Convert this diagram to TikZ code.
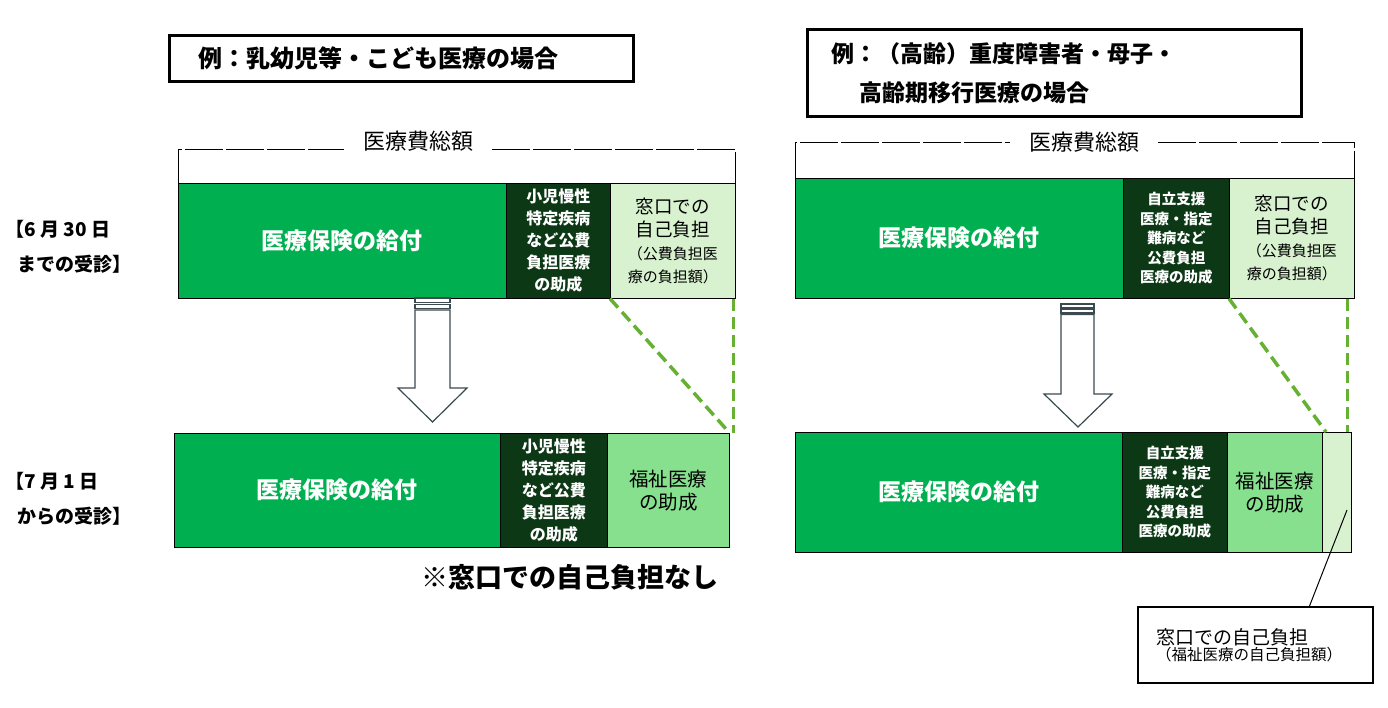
\documentclass[tikz,border=0pt]{standalone}
\usepackage{fontspec}
\setmainfont{Noto Sans CJK JP}
\usetikzlibrary{arrows,arrows.meta}

\definecolor{kenpo}{HTML}{00B050}
\definecolor{kohi}{HTML}{0D3816}
\definecolor{fukushi}{HTML}{86E08E}
\definecolor{madoguchi}{HTML}{D8F2D0}
\definecolor{linkgreen}{HTML}{66B032}
\definecolor{arrowgray}{HTML}{3A4A50}

\begin{document}
\begin{tikzpicture}[x=1pt,y=-1pt,
seg/.style={draw=black,line width=0.6pt,inner sep=0pt,anchor=north west,align=center},
kenpobox/.style={seg,fill=kenpo,text=white,font=\fontsize{23}{26}\selectfont\bfseries},
kohibox/.style={seg,fill=kohi,text=white,font=\bfseries},
fukubox/.style={seg,fill=fukushi,font=\fontsize{19.5}{23}\selectfont},
selfbox/.style={seg,fill=madoguchi},
casebox/.style={draw=black,line width=3pt,anchor=north west,align=left,font=\bfseries},
total/.style={font=\fontsize{22}{26}\selectfont,inner xsep=19pt},
bracket/.style={line width=0.7pt,dash pattern=on 38pt off 3pt},
datelabel/.style={anchor=west,align=left,font=\fontsize{19}{35}\selectfont\bfseries},
link/.style={linkgreen,line width=3.5pt,dash pattern=on 12pt off 6pt},
hollow/.style={draw=arrowgray,fill=white,line width=1.2pt,line join=miter},
notebox/.style={draw=black,line width=2pt,anchor=north west,align=left,inner xsep=18pt,text width=199pt,minimum height=76pt} ]

\useasboundingbox (0,0) rectangle (1388,707);

% left case
\node[casebox,minimum width=464pt,minimum height=46pt,inner xsep=26pt,text width=406pt,font=\fontsize{24}{28}\selectfont\bfseries] (case1) at (168,34) {例：乳幼児等・こども医療の場合};

\node[total] (total1) at (418,141) {医療費総額};

\node[kenpobox,minimum width=328pt,minimum height=115pt] (ins1) at (178,183) {医療保険の給付};
\node[kohibox,minimum width=104pt,minimum height=115pt,font=\fontsize{16}{22}\selectfont\bfseries] (kohi1) at (506,183) {小児慢性\\特定疾病\\など公費\\負担医療\\の助成};
\node[selfbox,minimum width=125pt,minimum height=115pt,font=\fontsize{18.5}{23}\selectfont] (self1) at (610,183) {窓口での\\自己負担\\\fontsize{15}{23}\selectfont（公費負担医\\\fontsize{15}{23}\selectfont 療の負担額）};

\draw[bracket] (ins1.north west) |- (total1.base west);
\draw[bracket] (total1.base east) -| (self1.north east);

\node[kenpobox,minimum width=326pt,minimum height=114pt] (ins2) at (174,433) {医療保険の給付};
\node[kohibox,minimum width=107pt,minimum height=114pt,font=\fontsize{16}{22}\selectfont\bfseries] (kohi2) at (500,433) {小児慢性\\特定疾病\\など公費\\負担医療\\の助成};
\node[fukubox,minimum width=122pt,minimum height=114pt] (fuku2) at (607,433) {福祉医療\\の助成};

\node[datelabel] (when1) at (2,247) {【6 月 30 日\\\hspace*{12pt}までの受診】};
\node[datelabel] (when2) at (2,499) {【7 月 1 日\\\hspace*{12pt}からの受診】};

\node[font=\fontsize{27}{30}\selectfont\bfseries] (none2) at (570,577) {※窓口での自己負担なし};

\draw[link] (self1.south west) -- (fuku2.north east);
\draw[link] ([xshift=-2pt]self1.south east) -- ([xshift=4pt]fuku2.north east);

\draw[hollow] (415,298) rectangle (450,302.5);
\draw[hollow] (415,304.5) rectangle (450,308.5);
\draw[hollow] (415,310) -- (415,388) -- (398,388) -- (432.5,422) -- (467,388) -- (450,388) -- (450,310) -- cycle;

% right case
\node[casebox,minimum width=494pt,minimum height=87pt,inner xsep=24pt,text width=446pt,font=\fontsize{23}{39}\selectfont\bfseries] (case2) at (806,28) {例：（高齢）重度障害者・母子・\\\hspace*{28pt}高齢期移行医療の場合};

\node[total] (total3) at (1084,142) {医療費総額};

\node[kenpobox,minimum width=328pt,minimum height=120pt] (ins3) at (795,178) {医療保険の給付};
\node[kohibox,minimum width=106pt,minimum height=120pt,font=\fontsize{14.5}{19.5}\selectfont\bfseries] (kohi3) at (1123,178) {自立支援\\医療・指定\\難病など\\公費負担\\医療の助成};
\node[selfbox,minimum width=125pt,minimum height=120pt,font=\fontsize{18.5}{23}\selectfont] (self3) at (1229,178) {窓口での\\自己負担\\\fontsize{15}{23}\selectfont（公費負担医\\\fontsize{15}{23}\selectfont 療の負担額）};

\draw[bracket] (ins3.north west) |- (total3.west);
\draw[bracket] (total3.east) -| (self3.north east);

\node[kenpobox,minimum width=327pt,minimum height=120pt] (ins4) at (795,432) {医療保険の給付};
\node[kohibox,minimum width=105pt,minimum height=120pt,font=\fontsize{14.5}{19.5}\selectfont\bfseries] (kohi4) at (1122,432) {自立支援\\医療・指定\\難病など\\公費負担\\医療の助成};
\node[fukubox,minimum width=95pt,minimum height=120pt] (fuku4) at (1227,432) {福祉医療\\の助成};
\node[selfbox,minimum width=29pt,minimum height=120pt] (self4) at (1322,432) {};

\draw[link] (self3.south west) -- ([xshift=4pt]self4.north west);
\draw[link] ([xshift=-7pt]self3.south east) -- ([xshift=-4pt]self4.north east);

\draw[hollow] (1061,304) rectangle (1094,308);
\draw[hollow] (1061,309.5) rectangle (1094,313);
\draw[hollow] (1061,314.5) -- (1061,394) -- (1044,394) -- (1078,427) -- (1112,394) -- (1094,394) -- (1094,314.5) -- cycle;

\node[notebox] (note4) at (1137,606) {\fontsize{19}{26}\selectfont 窓口での自己負担\\\fontsize{15.5}{26}\selectfont（福祉医療の自己負担額）};
\coordinate (ptr4) at (1347,510);
\draw[line width=1pt] (ptr4) -- ([xshift=54pt]note4.north);
\end{tikzpicture}
\end{document}
